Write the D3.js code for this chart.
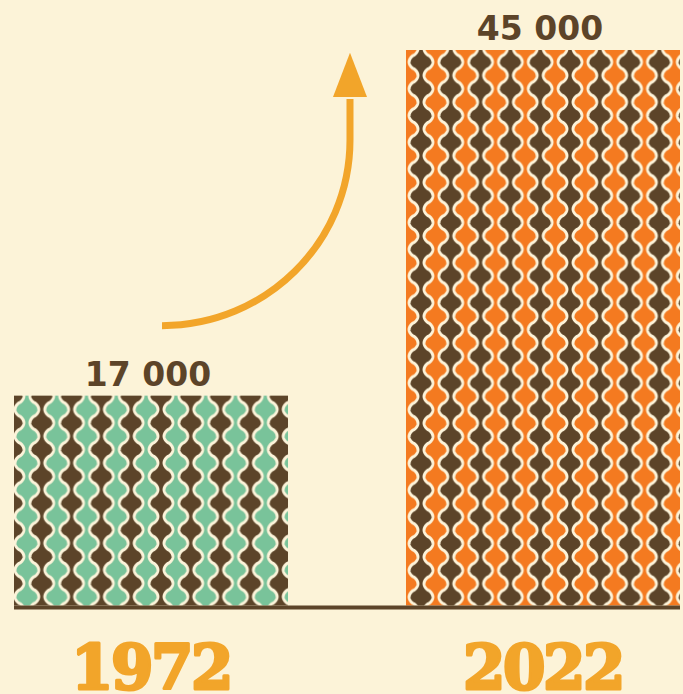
<!DOCTYPE html>
<html><head><meta charset="utf-8">
<script src="https://cdn.jsdelivr.net/npm/d3@7"></script>
<style>html,body{margin:0;padding:0;background:#FCF3D8;} svg{display:block}</style>
</head><body>
<script>
const years = ["1972", "2022"];
const values = [17000, 45000];
const valueLabels = ["17 000", "45 000"];
const fillColors = ["#79C39A", "#F47A20"];

const W = 683, H = 694;
const bg = "#FCF3D8", brown = "#5C4429", cream = "#FDF4DA", gold = "#F2A52A";

const svg = d3.select("body").append("svg").attr("width", W).attr("height", H);
svg.append("rect").attr("width", W).attr("height", H).attr("fill", bg);

const x = d3.scaleBand().domain(years).range([14, 680]).paddingInner(0.301).paddingOuter(0);
const y = d3.scaleLinear().domain([0, 45000]).range([605.5, 50]);
const bw = x.bandwidth();

// retro ogee pattern tiles
const PW = 29.8, PH = 26.75, AMP = 4.4, LW = 3;
const phases = [{cx: 12, cy: 396}, {cx: 421, cy: 62}];
function halfW(t) {
  const c = Math.cos(2 * Math.PI * t);
  return PW / 4 + AMP * Math.sign(c) * Math.pow(Math.abs(c), 0.75);
}
const defs = svg.append("defs");
const line = d3.line();
years.forEach((yr, i) => {
  const p = defs.append("pattern").attr("id", "pat" + i)
    .attr("patternUnits", "userSpaceOnUse")
    .attr("x", phases[i].cx - PW / 2).attr("y", phases[i].cy - PH / 2)
    .attr("width", PW).attr("height", PH);
  p.append("rect").attr("width", PW).attr("height", PH).attr("fill", fillColors[i]);
  const left = [], right = [];
  for (let yy = -PH; yy <= 2 * PH; yy += 0.25) {
    const t = (yy - PH / 2) / PH;
    const h = halfW(t);
    left.push([PW / 2 - h, yy]);
    right.push([PW / 2 + h, yy]);
  }
  p.append("path").attr("d", line(left.concat(right.slice().reverse())) + "Z").attr("fill", brown);
  p.append("path").attr("d", line(left)).attr("fill", "none").attr("stroke", cream).attr("stroke-width", LW);
  p.append("path").attr("d", line(right)).attr("fill", "none").attr("stroke", cream).attr("stroke-width", LW);
});

// bars
svg.selectAll("rect.bar").data(years).join("rect").attr("class", "bar")
  .attr("x", d => x(d)).attr("width", bw)
  .attr("y", (d, i) => y(values[i])).attr("height", (d, i) => y(0) - y(values[i]))
  .attr("fill", (d, i) => `url(#pat${i})`);

// baseline
svg.append("rect").attr("x", x(years[0])).attr("y", y(0))
  .attr("width", x(years[1]) + bw - x(years[0])).attr("height", 4).attr("fill", brown);

// value labels
svg.selectAll("text.val").data(years).join("text").attr("class", "val")
  .attr("x", d => x(d) + bw / 2 - 3).attr("y", (d, i) => y(values[i]) - 10)
  .attr("text-anchor", "middle").attr("fill", brown)
  .attr("font-family", "'DejaVu Sans', sans-serif").attr("font-weight", "bold").attr("font-size", 33)
  .text((d, i) => valueLabels[i]);

// year labels
svg.selectAll("text.yr").data(years).join("text").attr("class", "yr")
  .attr("x", d => x(d) + bw / 2).attr("y", 689)
  .attr("text-anchor", "middle").attr("fill", gold).attr("stroke", gold).attr("stroke-width", 3)
  .attr("stroke-linejoin", "round")
  .attr("font-family", "'DejaVu Serif', serif").attr("font-weight", "bold").attr("font-size", 61)
  .attr("letter-spacing", -2.5)
  .text(d => d);

// arrow
const x0 = x(years[0]) + bw / 2 + 11, y0 = y(values[0]) - 70;
const x1 = x(years[1]) - 56, yc = 140, yBase = 97, yTip = y(values[1]) + 2.7;
const k = 0.5523;
const ap = d3.path();
ap.moveTo(x0, y0);
ap.bezierCurveTo(x0 + k * (x1 - x0), y0, x1, yc + k * (y0 - yc), x1, yc);
ap.lineTo(x1, yBase + 2);
svg.append("path").attr("d", ap.toString()).attr("fill", "none").attr("stroke", gold).attr("stroke-width", 7);
svg.append("path").attr("d", line([[x1 - 17, yBase], [x1 + 17, yBase], [x1, yTip]]) + "Z").attr("fill", gold);
</script>
</body></html>
